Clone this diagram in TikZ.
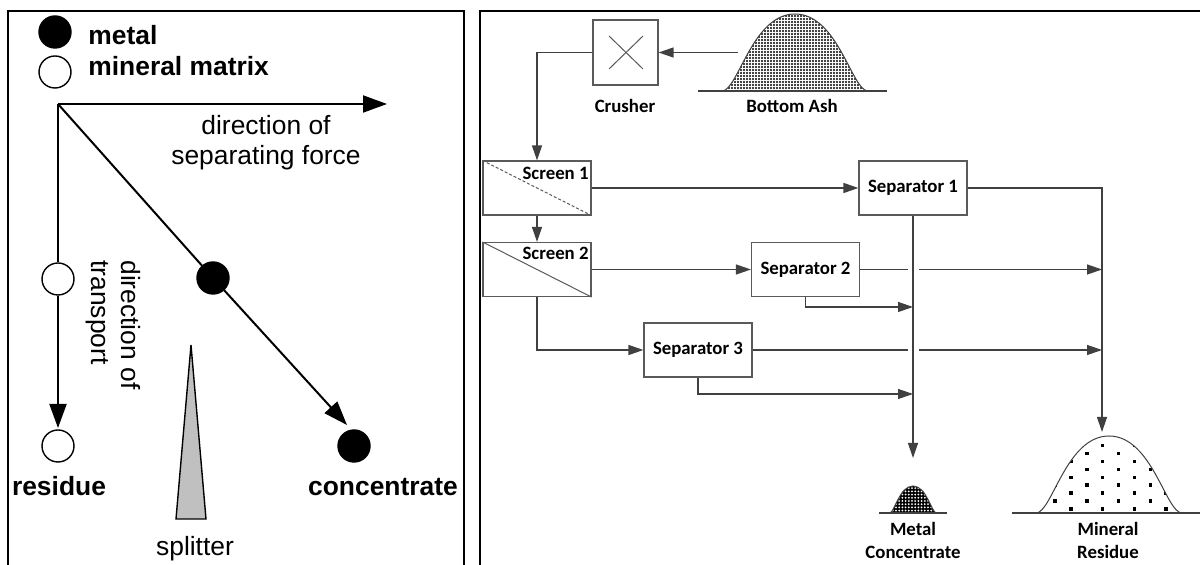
\documentclass[tikz,border=0pt]{standalone}
\usepackage{fontspec}
\newfontfamily\arialfont{Liberation Sans}
\newfontfamily\calfont{Carlito}
\usetikzlibrary{arrows.meta,patterns.meta}
\definecolor{linegray}{HTML}{404040}
\definecolor{boxgray}{HTML}{5A5A5A}
\definecolor{splittergray}{HTML}{C0C0C0}
% bell-shaped heap: centre x, base y, half width, height
\newcommand\bellshape[4]{(#1-#3,#2) .. controls (#1-0.78*#3,#2) and (#1-0.59*#3,#2-#4) .. (#1,#2-#4) .. controls (#1+0.59*#3,#2-#4) and (#1+0.78*#3,#2) .. (#1+#3,#2)}
\begin{document}
\begin{tikzpicture}[x=0.5pt,y=-0.5pt,
  panel/.style={line width=1.2pt},
  lline/.style={line width=1pt},
  larrow/.style={lline,-{Triangle[length=12pt,width=8.5pt]}},
  ball/.style={circle,draw,line width=0.7pt,inner sep=0pt,minimum size=16pt},
  metalball/.style={ball,fill=black},
  matrixball/.style={ball,fill=white},
  boldlbl/.style={font=\arialfont\bfseries\fontsize{13.2}{15}\selectfont,inner sep=0pt},
  plainlbl/.style={font=\arialfont\fontsize{13.2}{15}\selectfont,inner sep=0pt},
  unit/.style={draw=boxgray,line width=0.6pt,fill=white,rectangle,inner sep=0pt,
    minimum width=54pt,minimum height=27pt,font=\calfont\bfseries\fontsize{9.4}{11.5}\selectfont},
  flow/.style={draw=linegray,line width=0.65pt},
  flowarrow/.style={flow,-{Triangle[length=7.5pt,width=5pt]}},
  caption/.style={font=\calfont\bfseries\fontsize{9.4}{11.5}\selectfont,inner sep=0pt,align=center},
  heapline/.style={draw=linegray,line width=0.5pt},
  groundline/.style={draw=linegray,line width=0.9pt},
]
\useasboundingbox (0,0) rectangle (1200,565);
\clip (0,0) rectangle (1200,565);

% two framed panels
\draw[panel] (8,11) rectangle (464,600);
\draw[panel] (480,11) rectangle (1220,600);

% ---------- left panel: principle of separation ----------
\node[metalball] (legmetal) at (55,32) {};
\node[matrixball] (legmatrix) at (55,72) {};
\node[boldlbl,anchor=base west] (legmetaltxt) at (88,45) {metal};
\node[boldlbl,anchor=base west] (legmatrixtxt) at (88,76) {mineral matrix};

\coordinate (origin) at (58,104);
\coordinate (forcetip) at (387,104);
\draw[larrow] (origin) -- (forcetip);
\node[plainlbl,align=center] (forcelbl) at (266,143) {direction of\\separating force};

\node[matrixball] (feedmatrix) at (58,279) {};
\node[metalball] (feedmetal) at (213,278) {};
\node[matrixball] (residue) at (58,446) {};
\node[metalball] (concentrate) at (354,446) {};
\coordinate (residuetipL) at (58,428);
\coordinate (conctipL) at (347,425);

\draw[lline] (origin) -- (feedmatrix);
\draw[larrow] (feedmatrix) -- (residuetipL);
\draw[lline] (origin) -- (feedmetal);
\draw[larrow] (feedmetal) -- (conctipL);

\node[plainlbl,rotate=-90,align=left,anchor=north west] (transportlbl) at (141,260) {direction of\\transport};

\draw[line width=0.7pt,fill=splittergray] (176,519) -- (191,345) -- (206,519) -- cycle;
\node[plainlbl,anchor=base] (splitterlbl) at (195,556) {splitter};
\node[boldlbl,anchor=base] (residuelbl) at (59,496) {residue};
\node[boldlbl,anchor=base] (conclbl) at (383,496) {concentrate};

% ---------- right panel: process flow ----------
% bottom ash heap
\fill[pattern={Dots[distance=1.5pt,radius=0.55pt]}] \bellshape{795}{91}{73}{77} -- cycle;
\path[heapline] \bellshape{795}{91}{73}{77};
\path[groundline] (698,91) -- (887,91);
\node[caption,anchor=base] (ashlbl) at (792,113) {Bottom Ash};

% crusher
\node[unit,minimum width=32.5pt,minimum height=32.5pt] (crusher) at (625.5,52.5) {};
\draw[boxgray,line width=0.5pt] (609,36) -- (643,69) (609,69) -- (643,36);
\node[caption,anchor=base] (crusherlbl) at (625,113) {Crusher};
\coordinate (ashout) at (738,52.5);
\draw[flowarrow] (ashout) -- (crusher.east);

% screens
\node[unit] (screen1) at (537,188) {};
\draw[boxgray,line width=0.5pt,dash pattern=on 1.5pt off 1pt] (screen1.north west) -- (screen1.south east);
\node[caption,anchor=base east] (screen1lbl) at (589,180) {Screen 1};
\node[unit] (screen2) at (537,269.5) {};
\draw[boxgray,line width=0.5pt] (screen2.north west) -- (screen2.south east);
\node[caption,anchor=base east] (screen2lbl) at (589,260) {Screen 2};

% separators
\node[unit] (sep1) at (913,188) {Separator 1};
\node[unit] (sep2) at (805.5,269.5) {Separator 2};
\node[unit] (sep3) at (698,350) {Separator 3};

% flows
\draw[flowarrow] (crusher.west) -| (screen1.north);
\draw[flowarrow] (screen1.east) -- (sep1.west);
\draw[flowarrow] (screen1.south) -- (screen2.north);
\draw[flowarrow] (screen2.east) -- (sep2.west);
\draw[flowarrow] (screen2.south) |- (sep3.west);

\coordinate (metaltip) at (913,458);
\coordinate (residuetip) at (1102,432);
\draw[flowarrow] (sep1.south) -- (metaltip);
\draw[flowarrow] (sep1.east) -| (residuetip);

\coordinate (jumpA2) at (908,269.5);
\coordinate (jumpB2) at (919,269.5);
\coordinate (res2) at (1102,269.5);
\coordinate (met2) at (913,307);
\draw[flow] (sep2.east) -- (jumpA2);
\draw[flowarrow] (jumpB2) -- (res2);
\draw[flowarrow] (sep2.south) |- (met2);

\coordinate (jumpA3) at (908,350);
\coordinate (jumpB3) at (919,350);
\coordinate (res3) at (1102,350);
\coordinate (met3) at (913,394);
\draw[flow] (sep3.east) -- (jumpA3);
\draw[flowarrow] (jumpB3) -- (res3);
\draw[flowarrow] (sep3.south) |- (met3);

% metal concentrate heap
\fill[black] \bellshape{913}{513}{23.5}{27} -- cycle;
\fill[pattern={Dots[distance=1.6pt,radius=0.5pt]},pattern color=white] \bellshape{913}{513}{23.5}{27} -- cycle;
\path[heapline] \bellshape{913}{513}{23.5}{27};
\path[groundline] (879,513) -- (947,513);
\node[caption] (metallbl) at (913,540) {Metal\\Concentrate};

% mineral residue heap
\begin{scope}
  \clip \bellshape{1109}{513}{73}{77} -- cycle;
  \foreach \r in {0,...,8}{
    \foreach \k in {-3,...,3}{
      \pgfmathsetmacro\dotx{1102.7+31.7*\k-15.85*mod(\r,2)}
      \pgfmathsetmacro\doty{445.7+7.9*\r}
      \fill (\dotx-1.7,\doty-1.7) rectangle (\dotx+1.7,\doty+1.7);
    }
  }
\end{scope}
\path[heapline] \bellshape{1109}{513}{73}{77};
\path[groundline] (1012,513) -- (1210,513);
\node[caption] (minerallbl) at (1108,540) {Mineral\\Residue};
\end{tikzpicture}
\end{document}
